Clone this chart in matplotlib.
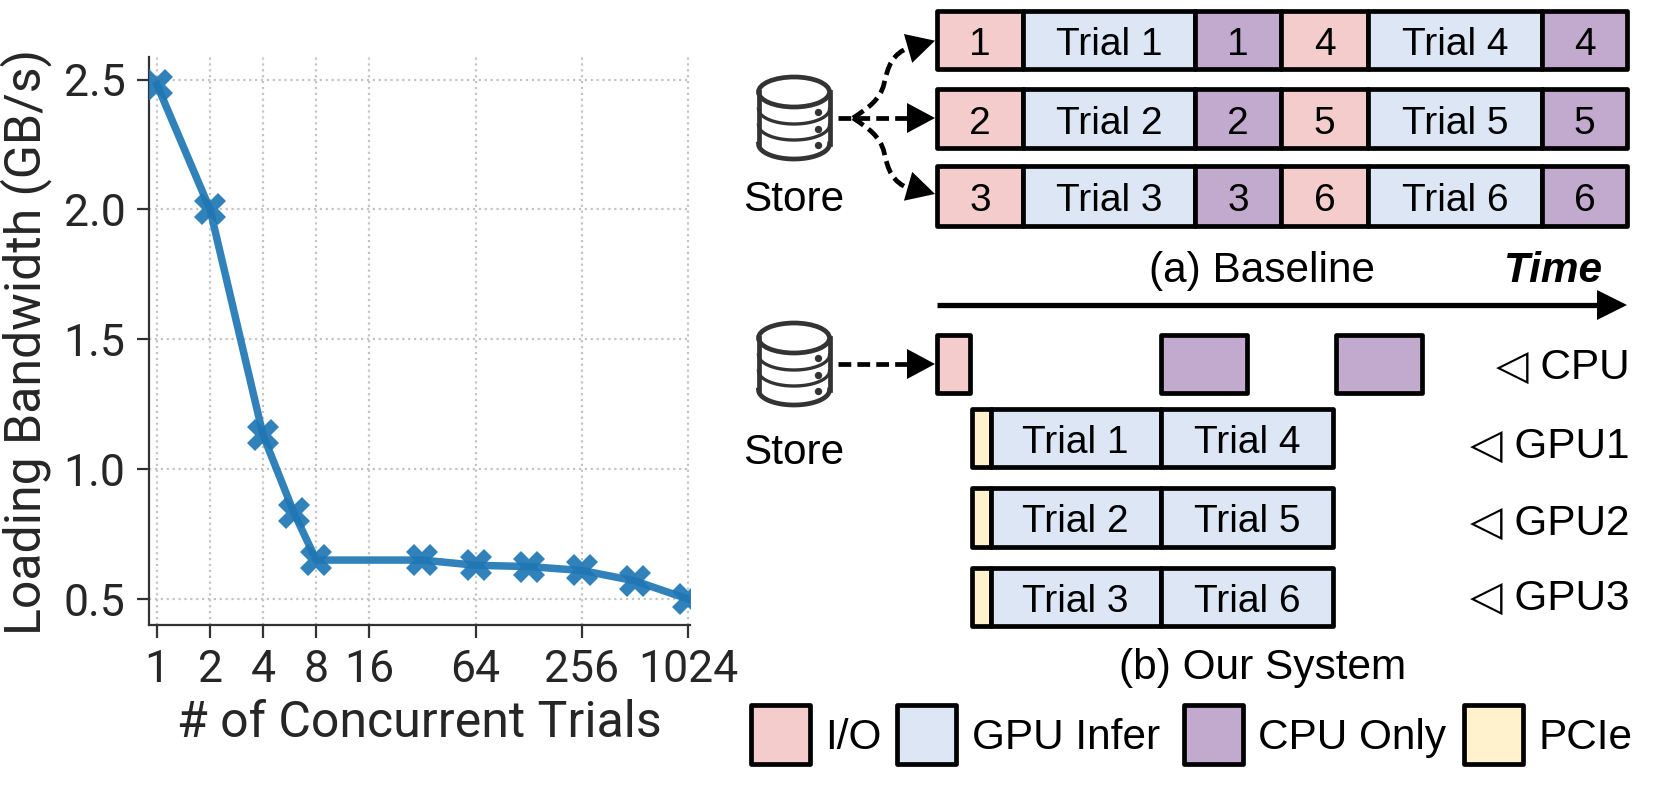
import numpy as np
import matplotlib
matplotlib.use("Agg")
import matplotlib.pyplot as plt
from matplotlib.patches import Rectangle, Ellipse, Polygon, PathPatch
from matplotlib.path import Path

# left panel data
trials = [1, 2, 4, 6, 8, 32, 64, 128, 256, 512, 1024]
bandwidth = [2.48, 2.0, 1.13, 0.83, 0.65, 0.65, 0.63, 0.625, 0.61, 0.57, 0.5]
x_ticks = [1, 2, 4, 8, 16, 64, 256, 1024]
y_ticks = [0.5, 1.0, 1.5, 2.0, 2.5]

# right panel contents
baseline_rows = [
    ["1", "Trial 1", "1", "4", "Trial 4", "4"],
    ["2", "Trial 2", "2", "5", "Trial 5", "5"],
    ["3", "Trial 3", "3", "6", "Trial 6", "6"],
]
baseline_kinds = ["io", "gpu", "cpu", "io", "gpu", "cpu"]
system_rows = [["Trial 1", "Trial 4"], ["Trial 2", "Trial 5"], ["Trial 3", "Trial 6"]]
device_labels = ["CPU", "GPU1", "GPU2", "GPU3"]
legend_kinds = ["io", "gpu", "cpu", "pcie"]
legend_labels = ["I/O", "GPU Infer", "CPU Only", "PCIe"]

colors = {"io": "#f4cccc", "gpu": "#dce6f4", "cpu": "#c2a9ce", "pcie": "#fff2cc"}
W, H = 1661, 788
SANS = ["Liberation Sans", "DejaVu Sans"]
FS = 30.5
FS_BOX = 28
DASH = (0, (2.7, 1.3))

fig = plt.figure(figsize=(W / 100, H / 100), dpi=100)

# line chart
ax = fig.add_axes([149 / W, 1 - 625 / H, 541 / W, 568 / H])
ax.plot(trials, bandwidth, color="#1f77b4", alpha=0.92, lw=5.4, marker="X", ms=23,
        mew=0, zorder=3)
ax.set_xscale("log", base=2)
ax.set_xlim(2 ** -0.15, 2 ** 10.04)
ax.set_ylim(0.4, 2.587)
ax.set_xticks(x_ticks)
ax.set_xticklabels([str(t) for t in x_ticks])
ax.minorticks_off()
ax.set_yticks(y_ticks)
ax.set_yticklabels([f"{v:.1f}" for v in y_ticks])
ax.grid(True, color="#c4c4c4", ls=":", lw=1.6)
ax.set_axisbelow(True)
for side in ["top", "right"]:
    ax.spines[side].set_visible(False)
for side in ["left", "bottom"]:
    ax.spines[side].set_linewidth(1.6)
    ax.spines[side].set_color("#333333")
ax.tick_params(length=9, width=1.6, color="#333333", labelcolor="#262626", labelsize=32,
               pad=8)
for lab in ax.get_xticklabels() + ax.get_yticklabels():
    lab.set_family("Roboto")
fig.text(419 / W, 1 - 723 / H, "# of Concurrent Trials", family="Roboto", fontsize=36,
         color="#262626", ha="center", va="center")
fig.text(26 / W, 1 - 342 / H, "Loading Bandwidth (GB/s)", family="Roboto", fontsize=36,
         color="#262626", rotation=90, ha="center", va="center")

# diagram drawn on a pixel-sized overlay
dg = fig.add_axes([0, 0, 1, 1])
dg.set_xlim(0, W)
dg.set_ylim(H, 0)
dg.axis("off")


def box(x0, x1, y0, y1, kind=None, label=None):
    face = colors[kind] if kind else "none"
    dg.add_patch(Rectangle((x0, y0), x1 - x0, y1 - y0, fc=face, ec="black", lw=3.4,
                           joinstyle="round"))
    if label:
        dg.text((x0 + x1) / 2, (y0 + y1) / 2 + 1, label, family=SANS, fontsize=FS_BOX,
                ha="center", va="center_baseline")


def head(tip, angle, length=28, half=15):
    a = np.radians(angle)
    d = np.array([np.cos(a), np.sin(a)])
    n = np.array([-d[1], d[0]])
    tip = np.array(tip, dtype=float)
    base = tip - length * d
    dg.add_patch(Polygon([tip, base + half * n, base - half * n], fc="black", ec="none"))


def curve(points):
    codes = [Path.MOVETO, Path.CURVE4, Path.CURVE4, Path.CURVE4,
             Path.CURVE4, Path.CURVE4, Path.CURVE4]
    dg.add_patch(PathPatch(Path(points, codes), fc="none", ec="black", lw=3.4, ls=DASH))


def store(cx, top, label_y):
    c = "#333333"
    hw = 35.5
    dg.add_patch(Ellipse((cx, top + 17), 2 * hw, 30, fc="none", ec=c, lw=3.4))
    t = np.linspace(0, np.pi, 40)
    for off, lw in [(17, 2.4), (33, 2.4), (52, 3.4)]:
        dg.plot(cx + hw * np.cos(t), top + 17 + off + 15 * np.sin(t), color=c, lw=lw)
    for s in (-1, 1):
        dg.plot([cx + s * hw] * 2, [top + 17, top + 69], color=c, lw=3.4)
    dg.scatter([cx + 24] * 3, [top + 37, top + 54, top + 70], s=28, color=c, lw=0)
    dg.text(cx, label_y, "Store", family=SANS, fontsize=FS, ha="center", va="center")


# (a) baseline
base_edges = [937, 1023, 1195, 1281, 1368, 1542, 1627]
base_rows_y = [(10.5, 69), (89, 148), (166, 226)]
for labels, (y0, y1) in zip(baseline_rows, base_rows_y):
    for i, (lab, kind) in enumerate(zip(labels, baseline_kinds)):
        box(base_edges[i], base_edges[i + 1], y0, y1, kind, lab)

store(794, 75, 200)
dg.plot([838, 908], [118, 118], color="black", lw=3.4, ls=DASH)
curve([(853, 118), (868, 108), (880, 100), (884, 84), (888, 66), (892, 54), (910, 47)])
curve([(853, 118), (868, 128), (880, 136), (884, 152), (888, 170), (892, 182), (910, 189)])
head((935, 118), 0)
head((935, 40.7), -16)
head((935, 194), 16)

dg.text(1262, 271, "(a) Baseline", family=SANS, fontsize=FS, ha="center", va="center")
dg.text(1553, 271, "Time", family=SANS, fontsize=FS, fontweight="bold", fontstyle="italic",
        ha="center", va="center")
dg.plot([937, 1600], [305, 305], color="black", lw=3.8, solid_capstyle="butt")
head((1627, 305), 0, length=30, half=15)

# (b) our system
store(794, 321, 453)
dg.plot([838, 908], [364, 364], color="black", lw=3.4, ls=DASH)
head((935, 364), 0)

box(937, 970, 334.5, 393, "io")
box(1161, 1247, 334.5, 393, "cpu")
box(1336, 1422, 334.5, 393, "cpu")

sys_edges = [972, 990.5, 1161, 1333]
sys_rows_y = [(409, 467), (488, 547), (568, 626)]
for labels, (y0, y1) in zip(system_rows, sys_rows_y):
    box(sys_edges[0], sys_edges[1], y0, y1, "pcie")
    box(sys_edges[1], sys_edges[2], y0, y1, "gpu", labels[0])
    box(sys_edges[2], sys_edges[3], y0, y1, "gpu", labels[1])

device_y = [368, 447, 524, 599]
for lab, y in zip(device_labels, device_y):
    dg.text(1630, y, "\u25c1 " + lab, family=SANS, fontsize=FS, ha="right", va="center")

dg.text(1263, 668, "(b) Our System", family=SANS, fontsize=FS, ha="center", va="center")

# legend
legend_x = [751, 897, 1184, 1464]
legend_text_x = [825, 972, 1258, 1538]
for kind, lab, x, tx in zip(legend_kinds, legend_labels, legend_x, legend_text_x):
    box(x, x + 59, 705, 764, kind)
    dg.text(tx, 738, lab, family=SANS, fontsize=FS, ha="left", va="center")

fig.savefig("out.png", dpi=100)
